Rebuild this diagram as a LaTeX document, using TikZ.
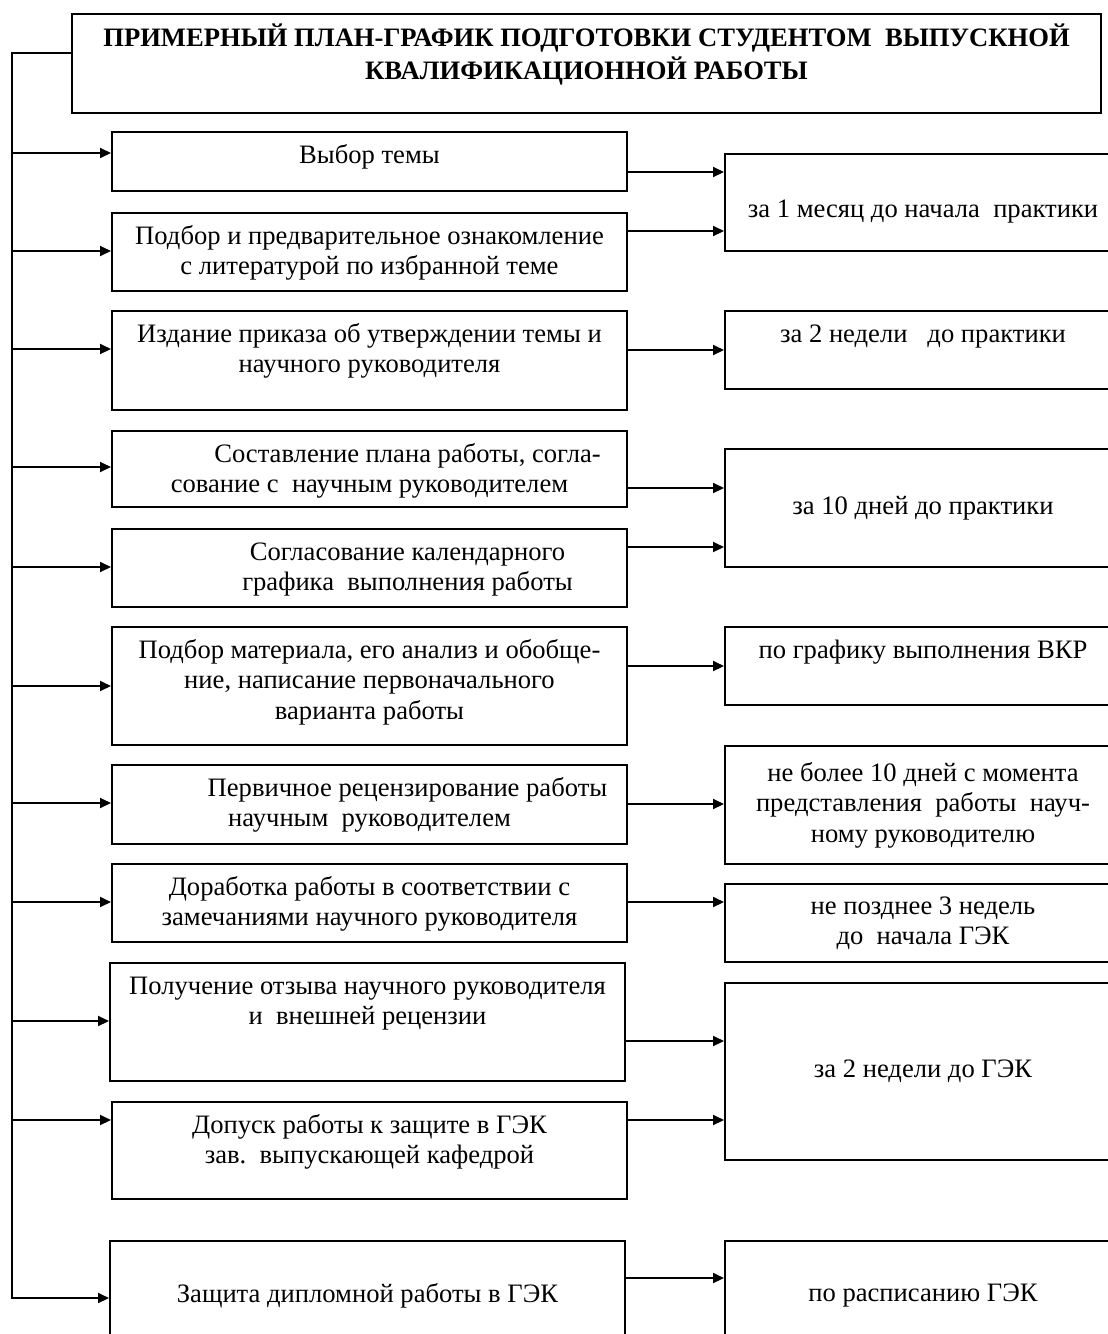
\documentclass[tikz,border=0pt]{standalone}
\usepackage{fontspec}
\setmainfont{Liberation Serif}
\usepackage{tikz}
\usetikzlibrary{arrows.meta}

\tikzset{
    plan/.style={draw, line width=1pt, anchor=north west, inner sep=0pt,
        font=\fontsize{13.3}{15.2}\selectfont},
    arr/.style={line width=1pt, -{Triangle[length=5.5pt,width=5pt]}},
}
% text at the top of a box / in its middle
\newcommand{\toptext}[3]{\parbox[c][#1][t]{#2}{\centering\vspace*{5pt}\strut#3}}
\newcommand{\midtext}[3]{\parbox[c][#1][c]{#2}{\centering #3}}

\begin{document}
\begin{tikzpicture}[x=0.5pt, y=-0.5pt]
        \clip (0,0) rectangle (1108,1334);

        \node[plan] (title) at (71,13) {\toptext{49.5pt}{514.5pt}{\fontsize{13.3}{16.5}\selectfont\bfseries
            ПРИМЕРНЫЙ ПЛАН-ГРАФИК ПОДГОТОВКИ СТУДЕНТОМ\ \ ВЫПУСКНОЙ\\ КВАЛИФИКАЦИОННОЙ РАБОТЫ}};

        \node[plan] (b1) at (111,131) {\toptext{29.5pt}{257.5pt}{Выбор темы}};
        \node[plan] (b2) at (111,212) {\toptext{39pt}{257.5pt}{Подбор и предварительное ознакомление\\ с литературой по избранной теме}};
        \node[plan] (b3) at (111,310) {\toptext{49.5pt}{257.5pt}{Издание приказа об утверждении темы и\\ научного руководителя}};
        \node[plan] (b4) at (111,430) {\toptext{38pt}{257.5pt}{\hspace*{38pt}Составление плана работы, согла-\\ сование с\ \ научным руководителем}};
        \node[plan] (b5) at (111,528) {\toptext{39pt}{257.5pt}{\hspace*{38pt}Согласование календарного\\ \hspace*{38pt}графика\ \ выполнения работы}};
        \node[plan] (b6) at (111,626) {\toptext{59pt}{257.5pt}{Подбор материала, его анализ и обобще-\\ ние, написание первоначального\\ варианта работы}};
        \node[plan] (b7) at (111,764) {\toptext{39.5pt}{257.5pt}{\hspace*{38pt}Первичное рецензирование работы\\ научным\ \ руководителем}};
        \node[plan] (b8) at (111,863) {\toptext{39pt}{257.5pt}{Доработка работы в соответствии с\\ замечаниями научного руководителя}};
        \node[plan] (b9) at (109,962) {\toptext{59pt}{257.5pt}{Получение отзыва научного руководителя\\ и\ \ внешней рецензии}};
        \node[plan] (b10) at (111,1101) {\toptext{48.5pt}{257.5pt}{Допуск работы к защите в ГЭК\\ зав.\ \ выпускающей кафедрой}};
        \node[plan] (b11) at (109,1240) {\midtext{55pt}{257.5pt}{Защита дипломной работы в ГЭК}};

        \node[plan] (r1) at (724,153) {\midtext{48.5pt}{198pt}{\vspace*{9pt}за 1 месяц до начала\ \ практики}};
        \node[plan] (r2) at (724,310) {\toptext{39pt}{198pt}{за 2 недели\ \ \ до практики}};
        \node[plan] (r3) at (724,448) {\midtext{59pt}{198pt}{за 10 дней до практики}};
        \node[plan] (r4) at (724,626) {\toptext{39pt}{198pt}{по графику выполнения ВКР}};
        \node[plan] (r5) at (724,745) {\midtext{59pt}{198pt}{не более 10 дней с момента\\ представления\ \ работы\ \ науч-\\ ному руководителю}};
        \node[plan] (r6) at (724,883) {\midtext{39pt}{198pt}{не позднее 3 недель\\ до\ \ начала ГЭК}};
        \node[plan] (r7) at (724,982) {\midtext{88.5pt}{198pt}{за 2 недели до ГЭК}};
        \node[plan] (r8) at (724,1240) {\midtext{55pt}{198pt}{по расписанию ГЭК}};

        \coordinate (spine) at (12,53);
        \draw[arr] (title.west |- spine) -- (spine) -- (spine |- 0,1298) -- (b11.west |- 0,1298);

        \draw[arr] (spine |- 0,153) -- (b1.west |- 0,153);
        \draw[arr] (spine |- 0,251) -- (b2.west |- 0,251);
        \draw[arr] (spine |- 0,349) -- (b3.west |- 0,349);
        \draw[arr] (spine |- 0,467) -- (b4.west |- 0,467);
        \draw[arr] (spine |- 0,567) -- (b5.west |- 0,567);
        \draw[arr] (spine |- 0,686) -- (b6.west |- 0,686);
        \draw[arr] (spine |- 0,803) -- (b7.west |- 0,803);
        \draw[arr] (spine |- 0,902) -- (b8.west |- 0,902);
        \draw[arr] (spine |- 0,1021) -- (b9.west |- 0,1021);
        \draw[arr] (spine |- 0,1120) -- (b10.west |- 0,1120);

        \draw[arr] (b1.east |- 0,172) -- (r1.west |- 0,172);
        \draw[arr] (b2.east |- 0,231) -- (r1.west |- 0,231);
        \draw[arr] (b3.east |- 0,350) -- (r2.west |- 0,350);
        \draw[arr] (b4.east |- 0,488) -- (r3.west |- 0,488);
        \draw[arr] (b5.east |- 0,547) -- (r3.west |- 0,547);
        \draw[arr] (b6.east |- 0,666) -- (r4.west |- 0,666);
        \draw[arr] (b7.east |- 0,804) -- (r5.west |- 0,804);
        \draw[arr] (b8.east |- 0,902) -- (r6.west |- 0,902);
        \draw[arr] (b9.east |- 0,1041) -- (r7.west |- 0,1041);
        \draw[arr] (b10.east |- 0,1120) -- (r7.west |- 0,1120);
        \draw[arr] (b11.east |- 0,1278) -- (r8.west |- 0,1278);
    \end{tikzpicture}
\end{document}
